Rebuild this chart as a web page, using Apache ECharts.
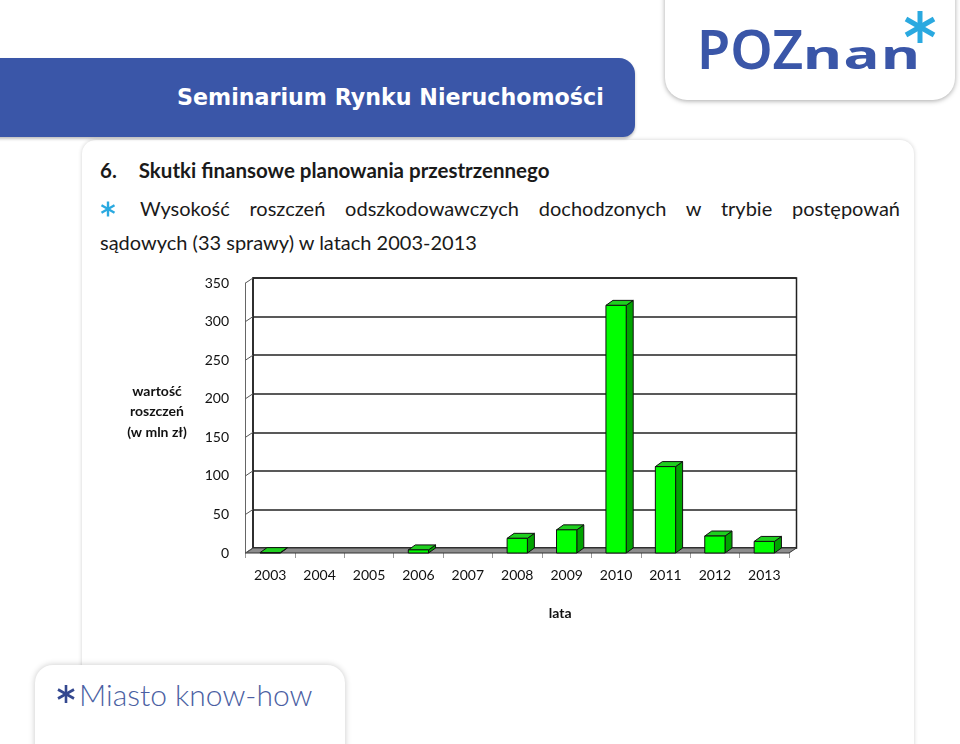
<!DOCTYPE html>
<html>
<head>
<meta charset="utf-8">
<script src="https://cdn.jsdelivr.net/npm/echarts@6/dist/echarts.min.js"></script>
<style>
  html, body { margin: 0; padding: 0; width: 960px; height: 744px; overflow: hidden; background: #fff; font-family: Lato, sans-serif; }
  .abs { position: absolute; }
  #band { left: -20px; top: 58px; width: 655px; height: 79px; background: #3a56a8; border-radius: 0 16px 12px 0; box-shadow: 0 2px 3px rgba(0,0,0,0.25); }
  #bandTitle { left: 177px; top: 84px; color: #fff; font: bold 22.2px "DejaVu Sans", sans-serif; white-space: nowrap; }
  #logo { left: 665px; top: -30px; width: 290px; height: 130px; background: #fff; border-radius: 22px; box-shadow: 0 1px 5px rgba(0,0,0,0.35); }
  #logoText { left: 697px; top: 11px; color: #3a56a8; font: 600 54px "Noto Sans", sans-serif; white-space: nowrap; }
  #logoText .low { display: inline-block; font-size: 40px; font-weight: 700; transform: scaleX(1.5); transform-origin: left bottom; letter-spacing: 1px; }
  #panel { left: 82px; top: 140px; width: 832px; height: 720px; border-radius: 14px; box-shadow: 0 0 4px rgba(0,0,0,0.18); background: #fff; }
  #heading { left: 100px; top: 158px; font: bold 20.5px Lato, sans-serif; color: #1a1a1a; white-space: nowrap; }
  #line1 { left: 140px; top: 196px; width: 760px; font: 20px Lato, sans-serif; color: #1a1a1a; text-align: justify; text-align-last: justify; white-space: nowrap; }
  #line2 { left: 100px; top: 230px; font: 20px Lato, sans-serif; color: #1a1a1a; white-space: nowrap; }
  #footLogo { left: 35px; top: 665px; width: 310px; height: 120px; background: #fff; border-radius: 18px; box-shadow: 0 0 6px rgba(0,0,0,0.22); }
  #footText { left: 79px; top: 676px; color: #4b5fa3; font: 300 30px Lato, sans-serif; white-space: nowrap; }
  #chart { left: 0; top: 0; width: 960px; height: 744px; }
</style>
</head>
<body>
<div id="panel" class="abs"></div>
<div id="band" class="abs"></div>
<div id="bandTitle" class="abs">Seminarium Rynku Nieruchomości</div>
<div id="logo" class="abs"></div>
<div id="logoText" class="abs">POZ<span class="low">nan</span></div>
<svg class="abs" style="left:903px;top:10px" width="34" height="34" viewBox="-17 -17 34 34">
  <g stroke="#2aa9e0" stroke-width="5" stroke-linecap="butt">
    <line x1="0" y1="-16" x2="0" y2="16"/>
    <line x1="-14" y1="-8" x2="14" y2="8"/>
    <line x1="-14" y1="8" x2="14" y2="-8"/>
  </g>
</svg>
<div id="heading" class="abs">6.<span style="display:inline-block;width:22px"></span>Skutki finansowe planowania przestrzennego</div>
<svg class="abs" style="left:100px;top:201px" width="16" height="16" viewBox="-8 -8 16 16">
  <g stroke="#2aa9e0" stroke-width="2.4">
    <line x1="0" y1="-7.5" x2="0" y2="7.5"/>
    <line x1="-6.5" y1="-3.75" x2="6.5" y2="3.75"/>
    <line x1="-6.5" y1="3.75" x2="6.5" y2="-3.75"/>
  </g>
</svg>
<div id="line1" class="abs">Wysokość roszczeń odszkodowawczych dochodzonych w trybie postępowań</div>
<div id="line2" class="abs">sądowych (33 sprawy) w latach 2003-2013</div>
<div id="footLogo" class="abs"></div>
<svg class="abs" style="left:56px;top:684px" width="20" height="20" viewBox="-10 -10 20 20">
  <g stroke="#34488f" stroke-width="2.6">
    <line x1="0" y1="-9" x2="0" y2="9"/>
    <line x1="-8" y1="-4.5" x2="8" y2="4.5"/>
    <line x1="-8" y1="4.5" x2="8" y2="-4.5"/>
  </g>
</svg>
<div id="footText" class="abs">Miasto know-how</div>
<div id="chart" class="abs"></div>
<script>
// data
const years = ['2003', '2004', '2005', '2006', '2007', '2008', '2009', '2010', '2011', '2012', '2013'];
const claims = [0.5, 0, 0, 4, 0, 19, 30, 321, 112, 22, 15];
const yTicks = [0, 50, 100, 150, 200, 250, 300, 350];

// 3D depth offset of the chart walls
const DX = 7.5, DY = 5;
const axisFont = 'Lato, sans-serif';

const chart = echarts.init(document.getElementById('chart'), null, { renderer: 'canvas' });

function renderFloor(params, api) {
  const cs = params.coordSys;
  const yb = cs.y + cs.height;
  const children = [
    { type: 'polygon', shape: { points: [[cs.x, yb], [cs.x + cs.width, yb], [cs.x + cs.width + DX, yb - DY], [cs.x + DX, yb - DY]] },
      style: { fill: '#8c8c8c', stroke: '#333', lineWidth: 1 } }
  ];
  // short diagonal ticks between the front axis and the back wall
  yTicks.forEach(v => {
    const y = api.coord([0, v])[1];
    children.push({ type: 'line', shape: { x1: cs.x, y1: y, x2: cs.x + DX, y2: y - DY }, style: { stroke: '#555', lineWidth: 1 } });
  });
  return { type: 'group', children };
}

function renderBar(params, api) {
  const val = api.value(1);
  if (!val) return null;
  const base = api.coord([api.value(0), 0]);
  const top = api.coord([api.value(0), val]);
  const w = api.size([1, 0])[0] * 0.41;
  const x0 = base[0] - w / 2, x1 = x0 + w;
  const yb = base[1], yt = top[1];
  const dx = 7, dy = 5;
  const edge = { stroke: '#111', lineWidth: 1 };
  return {
    type: 'group',
    children: [
      { type: 'polygon', shape: { points: [[x1, yb], [x1 + dx, yb - dy], [x1 + dx, yt - dy], [x1, yt]] }, style: Object.assign({ fill: '#00a300' }, edge) },
      { type: 'polygon', shape: { points: [[x0, yt], [x1, yt], [x1 + dx, yt - dy], [x0 + dx, yt - dy]] }, style: Object.assign({ fill: '#1fcf1f' }, edge) },
      { type: 'rect', shape: { x: x0, y: yt, width: w, height: yb - yt }, style: Object.assign({ fill: '#00ff00' }, edge) }
    ]
  };
}

const option = {
  animation: false,
  backgroundColor: 'transparent',
  grid: [
    { left: 245.5, right: 171, top: 283, bottom: 191 },
    { left: 245.5 + DX, right: 171 - DX, top: 283 - DY, bottom: 191 + DY, show: true, borderColor: '#222', borderWidth: 1.5, backgroundColor: 'transparent' }
  ],
  xAxis: [
    {
      type: 'category', data: years, gridIndex: 0,
      axisLine: { show: false },
      axisTick: { show: true, length: 5, lineStyle: { color: '#999' } },
      axisLabel: { color: '#111', fontSize: 14, fontFamily: axisFont, margin: 15 },
      name: 'lata', nameLocation: 'middle', nameGap: 53,
      nameTextStyle: { color: '#111', fontSize: 14, fontWeight: 'bold', fontFamily: axisFont, padding: [0, 0, 0, 86] }
    },
    { type: 'value', gridIndex: 1, show: false }
  ],
  yAxis: [
    {
      type: 'value', gridIndex: 0, min: 0, max: 350, interval: 50,
      axisLine: { show: true, lineStyle: { color: '#666', width: 1 } },
      axisTick: { show: false },
      splitLine: { show: false },
      axisLabel: { color: '#111', fontSize: 14, fontFamily: axisFont, margin: 16.5 }
    },
    {
      type: 'value', gridIndex: 1, min: 0, max: 350, interval: 50,
      axisLine: { show: true, lineStyle: { color: '#222', width: 1.5 } },
      axisTick: { show: false },
      axisLabel: { show: false },
      splitLine: { show: true, lineStyle: { color: '#222', width: 1.5 } }
    }
  ],
  graphic: [
    {
      type: 'text', left: 121, top: 381,
      style: { text: 'wartość\nroszczeń\n(w mln zł)', textAlign: 'center', fill: '#111',
        font: 'bold 14px Lato, sans-serif', lineHeight: 20.5, width: 72 }
    }
  ],
  series: [
    { type: 'custom', name: 'floor', xAxisIndex: 0, yAxisIndex: 0, z: 1, data: [[0, 0]], renderItem: renderFloor, silent: true },
    { type: 'custom', name: 'roszczenia', xAxisIndex: 0, yAxisIndex: 0, z: 3,
      data: claims.map((v, i) => [i, v]), encode: { x: 0, y: 1 }, renderItem: renderBar }
  ]
};

chart.setOption(option);
</script>
</body>
</html>
